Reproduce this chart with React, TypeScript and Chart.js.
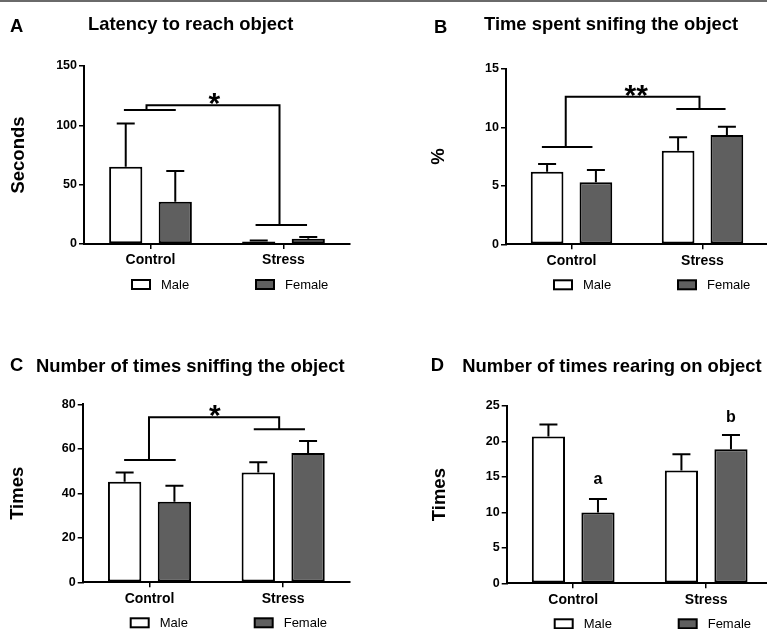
import React, { useEffect, useRef } from "react";
import { Chart, registerables } from "chart.js";

Chart.register(...registerables);

const FONT = '"Liberation Sans", Arial, Helvetica, sans-serif';
const FEMALE_FILL = "#5f5f5f";

// ---------- data ----------
const groups = ["Control", "Stress"];
const seriesNames = ["Male", "Female"];

// A: Latency to reach object (seconds)
const latencyMale = [65, 2.2];
const latencyMaleSem = [36.5, 0.8];
const latencyFemale = [35.5, 4.5];
const latencyFemaleSem = [26, 1.5];

// B: Time spent sniffing the object (%)
const sniffTimeMale = [6.2, 8.0];
const sniffTimeMaleSem = [0.67, 1.15];
const sniffTimeFemale = [5.3, 9.35];
const sniffTimeFemaleSem = [1.06, 0.71];

// C: Number of times sniffing the object
const sniffCountMale = [45.2, 49.3];
const sniffCountMaleSem = [4.1, 4.6];
const sniffCountFemale = [36.2, 58.1];
const sniffCountFemaleSem = [7.2, 5.4];

// D: Number of times rearing on object
const rearMale = [20.7, 15.9];
const rearMaleSem = [1.7, 2.3];
const rearFemale = [10.0, 18.9];
const rearFemaleSem = [1.9, 2.0];

// significance brackets: polylines as [category position, value]
const latencyBrackets: [number, number][][] = [
  [[-0.2, 113], [0.19, 113]],
  [[-0.03, 113], [-0.03, 117], [0.97, 117], [0.97, 16]],
  [[0.79, 16], [1.177, 16]],
];
const sniffTimeBrackets: [number, number][][] = [
  [[-0.226, 8.32], [0.16, 8.32]],
  [[-0.044, 8.32], [-0.044, 12.63], [0.977, 12.63], [0.977, 11.57]],
  [[0.8, 11.57], [1.176, 11.57]],
];
const sniffCountBrackets: [number, number][][] = [
  [[-0.19, 55], [0.196, 55]],
  [[-0.004, 55], [-0.004, 74.2], [0.97, 74.2], [0.97, 68.8]],
  [[0.78, 68.8], [1.163, 68.8]],
];

type Star = { text: string; x: number; y: number };
type BarLabel = { text: string; ds: number; i: number; y: number };

interface PanelCfg {
  letter: string;
  title: string;
  yTitle: string;
  male: number[];
  female: number[];
  maleSem: number[];
  femaleSem: number[];
  yMax: number;
  yStep: number;
  brackets: [number, number][][];
  stars: Star[];
  barLabels: BarLabel[];
  box: { left: number; top: number; w: number; h: number };
  area: { left: number; top: number; right: number; bottom: number };
  letterPos: [number, number];
  titlePos: [number, number];
  yTitlePad: number;
}

const panels: PanelCfg[] = [
  {
    letter: "A",
    title: "Latency to reach object",
    yTitle: "Seconds",
    male: latencyMale,
    female: latencyFemale,
    maleSem: latencyMaleSem,
    femaleSem: latencyFemaleSem,
    yMax: 150,
    yStep: 50,
    brackets: latencyBrackets,
    stars: [{ text: "*", x: 0.48, y: 124.7 }],
    barLabels: [],
    box: { left: 0, top: 0, w: 384, h: 310 },
    area: { left: 84, top: 66, right: 350, bottom: 244 },
    letterPos: [10, 32],
    titlePos: [88, 30],
    yTitlePad: 8,
  },
  {
    letter: "B",
    title: "Time spent snifing the object",
    yTitle: "%",
    male: sniffTimeMale,
    female: sniffTimeFemale,
    maleSem: sniffTimeMaleSem,
    femaleSem: sniffTimeFemaleSem,
    yMax: 15,
    yStep: 5,
    brackets: sniffTimeBrackets,
    stars: [{ text: "**", x: 0.494, y: 13.39 }],
    barLabels: [],
    box: { left: 384, top: 0, w: 384, h: 310 },
    area: { left: 122, top: 69, right: 384, bottom: 244.3 },
    letterPos: [50, 32.5],
    titlePos: [100, 30],
    yTitlePad: 44,
  },
  {
    letter: "C",
    title: "Number of times sniffing the object",
    yTitle: "Times",
    male: sniffCountMale,
    female: sniffCountFemale,
    maleSem: sniffCountMaleSem,
    femaleSem: sniffCountFemaleSem,
    yMax: 80,
    yStep: 20,
    brackets: sniffCountBrackets,
    stars: [{ text: "*", x: 0.488, y: 78.6 }],
    barLabels: [],
    box: { left: 0, top: 310, w: 384, h: 319 },
    area: { left: 82.7, top: 94.3, right: 350, bottom: 272.3 },
    letterPos: [10, 61],
    titlePos: [36, 61.5],
    yTitlePad: 7.2,
  },
  {
    letter: "D",
    title: "Number of times rearing on object",
    yTitle: "Times",
    male: rearMale,
    female: rearFemale,
    maleSem: rearMaleSem,
    femaleSem: rearFemaleSem,
    yMax: 25,
    yStep: 5,
    brackets: [],
    stars: [],
    barLabels: [
      { text: "a", ds: 1, i: 0, y: 14.0 },
      { text: "b", ds: 1, i: 1, y: 22.7 },
    ],
    box: { left: 384, top: 310, w: 390, h: 319 },
    area: { left: 122.7, top: 96, right: 388.7, bottom: 273.3 },
    letterPos: [46.7, 61],
    titlePos: [78.3, 61.5],
    yTitlePad: 45,
  },
];

function drawDecor(chart: any, p: PanelCfg) {
  const ctx: CanvasRenderingContext2D = chart.ctx;
  const xs = chart.scales.x;
  const ys = chart.scales.y;
  const a = chart.chartArea;
  ctx.save();
  ctx.strokeStyle = "#000";
  ctx.fillStyle = "#000";
  ctx.lineWidth = 2;
  ctx.lineCap = "butt";
  ctx.lineJoin = "miter";

  // error bars (upper SEM)
  [p.maleSem, p.femaleSem].forEach((sem, di) => {
    const vals = di === 0 ? p.male : p.female;
    const meta = chart.getDatasetMeta(di);
    meta.data.forEach((el: any, i: number) => {
      const x0 = el.x;
      const yb = ys.getPixelForValue(vals[i]);
      const yt = ys.getPixelForValue(vals[i] + sem[i]);
      ctx.beginPath();
      ctx.moveTo(x0, yb);
      ctx.lineTo(x0, yt);
      ctx.moveTo(x0 - 9, yt);
      ctx.lineTo(x0 + 9, yt);
      ctx.stroke();
    });
  });

  // significance brackets
  p.brackets.forEach((line) => {
    ctx.beginPath();
    line.forEach(([cx, v], k) => {
      const px = xs.getPixelForValue(cx);
      const py = ys.getPixelForValue(v);
      if (k === 0) ctx.moveTo(px, py);
      else ctx.lineTo(px, py);
    });
    ctx.stroke();
  });

  // stars
  ctx.textAlign = "center";
  ctx.textBaseline = "alphabetic";
  const starSize = 30;
  ctx.font = `bold ${starSize}px ${FONT}`;
  p.stars.forEach((s) => {
    ctx.fillText(s.text, xs.getPixelForValue(s.x), ys.getPixelForValue(s.y) + 0.575 * starSize);
  });

  // bar letters
  ctx.font = `bold 16px ${FONT}`;
  p.barLabels.forEach((l) => {
    const el = chart.getDatasetMeta(l.ds).data[l.i];
    ctx.fillText(l.text, el.x, ys.getPixelForValue(l.y));
  });

  // panel letter and title
  ctx.textAlign = "left";
  ctx.font = `bold 18.4px ${FONT}`;
  ctx.fillText(p.letter, p.letterPos[0], p.letterPos[1]);
  ctx.fillText(p.title, p.titlePos[0], p.titlePos[1]);

  // legend
  const cy = a.bottom + 40.5;
  seriesNames.forEach((name, k) => {
    const bx = a.left + (k ? 171 : 47);
    ctx.fillStyle = k ? FEMALE_FILL : "#fff";
    ctx.fillRect(bx + 1, cy - 4.5, 18, 9);
    ctx.strokeStyle = "#000";
    ctx.lineWidth = 2;
    ctx.strokeRect(bx + 1, cy - 4.5, 18, 9);
    ctx.fillStyle = "#000";
    ctx.font = `13px ${FONT}`;
    ctx.textBaseline = "middle";
    ctx.fillText(name, bx + 30, cy + 0.5);
    ctx.textBaseline = "alphabetic";
  });

  ctx.restore();
}

function Panel({ p }: { p: PanelCfg }) {
  const ref = useRef<HTMLCanvasElement | null>(null);
  useEffect(() => {
    if (!ref.current) return;
    Chart.defaults.font.family = FONT;
    Chart.defaults.color = "#000";
    const { box, area } = p;
    const chart = new Chart(ref.current, {
      type: "bar",
      data: {
        labels: groups,
        datasets: [
          {
            label: seriesNames[0],
            data: p.male,
            backgroundColor: "#ffffff",
            borderColor: "#000000",
            borderWidth: 2,
            borderSkipped: false,
            categoryPercentage: 0.745,
            barPercentage: 0.67,
          },
          {
            label: seriesNames[1],
            data: p.female,
            backgroundColor: FEMALE_FILL,
            borderColor: "#000000",
            borderWidth: 2,
            borderSkipped: false,
            categoryPercentage: 0.745,
            barPercentage: 0.67,
          },
        ],
      },
      options: {
        responsive: false,
        animation: false,
        events: [],
        layout: {
          padding: { left: 0, top: area.top, right: box.w - area.right, bottom: 0 },
        },
        plugins: {
          legend: { display: false },
          title: { display: false },
          tooltip: { enabled: false },
        },
        scales: {
          x: {
            type: "category",
            offset: true,
            grid: {
              display: true,
              drawOnChartArea: false,
              drawTicks: true,
              tickLength: 5,
              offset: false,
              color: "#000",
              lineWidth: 1.5,
            },
            border: { display: true, color: "#000", width: 2 },
            ticks: {
              color: "#000",
              font: { family: FONT, size: 14, weight: "bold" },
              padding: 3,
              maxRotation: 0,
            },
            afterFit: (scale: any) => {
              scale.height = box.h - area.bottom;
            },
          },
          y: {
            min: 0,
            max: p.yMax,
            grid: {
              display: true,
              drawOnChartArea: false,
              drawTicks: true,
              tickLength: 5,
              color: "#000",
              lineWidth: 1.5,
            },
            border: { display: true, color: "#000", width: 2 },
            ticks: {
              stepSize: p.yStep,
              color: "#000",
              padding: 2,
              font: { family: FONT, size: 12.5, weight: "bold" },
            },
            title: {
              display: true,
              text: p.yTitle,
              color: "#000",
              font: { family: FONT, size: 18.5, weight: "bold" },
              padding: { top: p.yTitlePad, bottom: 0 },
            },
            afterFit: (scale: any) => {
              scale.width = area.left;
            },
          },
        },
      } as any,
      plugins: [
        {
          id: "decor" + p.letter,
          afterDraw: (c: any) => drawDecor(c, p),
        },
      ],
    });
    return () => chart.destroy();
  }, [p]);
  return (
    <canvas
      ref={ref}
      width={p.box.w}
      height={p.box.h}
      style={{
        position: "absolute",
        left: p.box.left,
        top: p.box.top,
        width: p.box.w,
        height: p.box.h,
      }}
    />
  );
}

export default function App() {
  return (
    <div
      style={{
        position: "absolute",
        left: 0,
        top: 0,
        width: 767,
        height: 629,
        overflow: "hidden",
        background: "#fff",
      }}
    >
      <div
        style={{
          position: "absolute",
          left: 0,
          top: 0,
          width: 767,
          height: 2,
          background: "#6a6a6a",
        }}
      />
      {panels.map((p) => (
        <Panel key={p.letter} p={p} />
      ))}
    </div>
  );
}
